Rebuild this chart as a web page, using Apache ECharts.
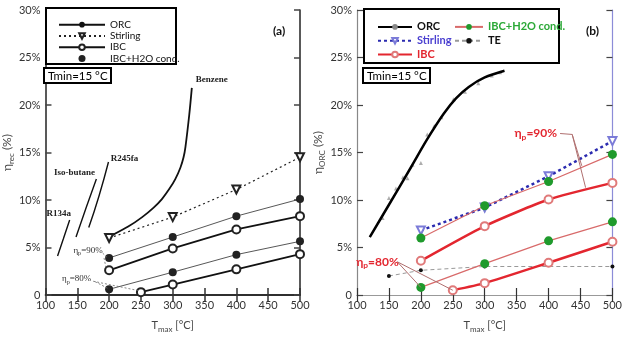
<!DOCTYPE html>
<html>
<head>
<meta charset="utf-8">
<script src="https://cdn.jsdelivr.net/npm/echarts@6/dist/echarts.min.js"></script>
<style>
html,body{margin:0;padding:0;background:#fff}
#chart{width:625px;height:338px}
</style>
</head>
<body>
<div id="chart"></div>
<script>
// temperatures (°C) of the computed points
var tmaxPts = [200, 300, 400, 500];
var tmaxPts80 = [250, 300, 400, 500];

// panel (a) : efficiencies in %
var aR134a = [[119, 4.1], [128, 5.9], [138, 7.9]];
var aIsobutane = [[148, 6.1], [164, 9.2], [180, 12.2]];
var aR245fa = [[168, 7.1], [184, 10.4], [199, 14.0]];
var aBenzene = [[205, 6.3], [230, 7.2], [252, 8.2], [270, 9.2], [283, 10.1], [295, 11.2], [304, 12.2], [312, 13.4], [317, 14.5], [320, 15.6], [326, 19.0], [330, 21.8]];
var aStirling = [6.0, 8.2, 11.1, 14.5];
var aIbcCond90 = [3.9, 6.1, 8.3, 10.1];
var aIbc90 = [2.6, 4.9, 6.9, 8.3];
var aIbcCond80 = [0.6, 2.4, 4.25, 5.65];
var aIbc80 = [0.3, 1.1, 2.7, 4.3];

// panel (b)
var bOrcFit = [[120, 6.1], [150, 9.5], [185, 13.5], [210, 16.4], [236, 19.1], [255, 20.7], [275, 21.9], [300, 22.9], [331, 23.6]];
var bOrcPts = [[140, 8.1], [150, 10.2], [161, 11.2], [172, 12.4], [179, 12.3], [187, 13.7], [200, 13.9], [210, 16.9], [221, 17.8], [232, 18.7], [251, 20.6], [269, 21.4], [290, 22.3], [311, 23.1], [324, 23.45]];
var bStirling = [6.8, 9.2, 12.5, 16.2];
var bIbcCond90 = [6.0, 9.4, 11.95, 14.8];
var bIbc90 = [3.6, 7.25, 10.05, 11.8];
var bIbcCond80 = [0.8, 3.3, 5.7, 7.7];
var bIbc80 = [0.5, 1.25, 3.4, 5.6];
var bTE = [[150, 2.0], [200, 2.6], [300, 3.0], [500, 3.0]];

function pair(xs, ys) {
    return xs.map(function (x, i) { return [x, ys[i]]; });
}
function last(arr) { return arr[arr.length - 1]; }

var FONT = 'Lato';
var SERIF = 'Liberation Serif';

function xAxes(grid, lineColor, topColor, width) {
    return [{
        gridIndex: grid, type: 'value', min: 100, max: 500, interval: 50, position: 'bottom',
        axisLine: { lineStyle: { color: lineColor, width: width } },
        axisTick: { inside: true, length: 7, lineStyle: { color: '#333', width: width } },
        axisLabel: { color: '#333', fontSize: 11, margin: 5, fontFamily: FONT },
        splitLine: { show: false },
        name: '{t|T}{s|max}{t| [°C]}', nameLocation: 'middle', nameGap: 22,
        nameTextStyle: { rich: {
            t: { fontSize: 11, fontFamily: FONT, color: '#444' },
            s: { fontSize: 8, fontFamily: FONT, color: '#444', padding: [8, 0, 0, 0] }
        } }
    }, {
        gridIndex: grid, type: 'value', min: 100, max: 500, interval: 50, position: 'top',
        axisLine: { lineStyle: { color: topColor, width: width } },
        axisTick: { inside: true, length: 7, lineStyle: { color: '#333', width: width } },
        axisLabel: { show: false }, splitLine: { show: false }
    }];
}
function yAxes(grid, leftColor, rightColor, width, sub) {
    return [{
        gridIndex: grid, type: 'value', min: 0, max: 30, interval: 5, position: 'left',
        axisLine: { show: true, lineStyle: { color: leftColor, width: width } },
        axisTick: { show: true, inside: true, length: 6, lineStyle: { color: '#444', width: width } },
        axisLabel: { color: '#333', fontSize: 11, margin: 5, fontFamily: FONT,
            formatter: function (v) { return v === 0 ? '0' : v + '%'; } },
        splitLine: { show: false },
        name: '{t|η}{s|' + sub + '}{t| (%)}', nameLocation: 'middle', nameGap: 24, nameRotate: 90,
        nameTextStyle: { rich: {
            t: { fontSize: 12, fontFamily: FONT, color: '#444' },
            s: { fontSize: 8, fontFamily: FONT, color: '#444', padding: [8, 0, 0, 0] }
        } }
    }, {
        gridIndex: grid, type: 'value', min: 0, max: 30, interval: 5, position: 'right',
        axisLine: { show: true, lineStyle: { color: rightColor, width: width } },
        axisTick: { show: true, inside: true, length: 6, lineStyle: { color: '#444', width: width } },
        axisLabel: { show: false }, splitLine: { show: false }
    }];
}

function curveLabel(pt, text, off) {
    return {
        symbol: 'circle', symbolSize: 1, itemStyle: { color: 'transparent' },
        label: { show: true, formatter: text, offset: off, color: '#222', fontFamily: SERIF, fontWeight: 'bold', fontSize: 9 },
        data: [{ coord: pt }]
    };
}
function etaLabel(pt, text, style) {
    return {
        coord: pt,
        label: {
            show: true,
            formatter: '{a|η}{s|p}{a|=' + text + '}',
            rich: {
                a: { fontSize: style.size, fontFamily: style.font, fontWeight: style.weight, color: style.color },
                s: { fontSize: style.size * 0.7, fontFamily: style.font, fontWeight: style.weight, color: style.color, padding: [7, 0, 0, 0] }
            }
        }
    };
}
function lead(a, b) { return [{ coord: a }, { coord: b }]; }

var aOrcStyle = { color: '#111', width: 1.4 };
function aOrc(data, label, off, smooth, w) {
    return { name: 'ORC', type: 'line', data: data, smooth: smooth, symbol: 'circle', symbolSize: 3, showSymbol: false,
        lineStyle: { color: '#111', width: w }, itemStyle: { color: '#111' },
        markPoint: curveLabel(last(data), label, off) };
}
var aSeries = [
    aOrc(aR134a, 'R134a', [-11, -6], true, 1.4),
    aOrc(aIsobutane, 'Iso-butane', [-22, -6], true, 1.4),
    aOrc(aR245fa, 'R245fa', [16, -3], true, 1.4),
    aOrc(aBenzene, 'Benzene', [20, -8], 0.3, 1.8),
    { name: 'Stirling', type: 'line', data: pair(tmaxPts, aStirling), symbol: 'emptyTriangle', symbolRotate: 180, symbolSize: 8,
      lineStyle: { color: '#222', width: 1.2, type: [2, 3] }, itemStyle: { color: '#222', borderWidth: 1 } },
    { name: 'IBC+H2O cond.', type: 'line', data: pair(tmaxPts, aIbcCond90), symbol: 'circle', symbolSize: 8,
      lineStyle: { color: '#444', width: 0.9 }, itemStyle: { color: '#222' } },
    { name: 'IBC', type: 'line', data: pair(tmaxPts, aIbc90), symbol: 'emptyCircle', symbolSize: 8,
      lineStyle: { color: '#111', width: 1.8 }, itemStyle: { color: '#222', borderWidth: 1 },
      markPoint: { symbol: 'circle', symbolSize: 1, itemStyle: { color: 'transparent' },
        data: [etaLabel([167, 4.7], '90%', { size: 9, font: SERIF, weight: 'normal', color: '#333' }),
               etaLabel([149, 1.7], '80%', { size: 9, font: SERIF, weight: 'normal', color: '#333' })] },
      markLine: { silent: true, symbol: ['none', 'none'], label: { show: false },
        lineStyle: { color: '#666', width: 0.8, type: [2, 2] },
        data: [lead([190, 4.4], [197, 3.95]), lead([192, 3.9], [195, 2.9]),
               lead([175, 1.45], [247, 0.45]), lead([178, 1.4], [198, 0.7])] } },
    { name: 'IBC+H2O cond.', type: 'line', data: pair(tmaxPts, aIbcCond80), symbol: 'circle', symbolSize: 8,
      lineStyle: { color: '#444', width: 0.9 }, itemStyle: { color: '#222' } },
    { name: 'IBC', type: 'line', data: pair(tmaxPts80, aIbc80), symbol: 'emptyCircle', symbolSize: 8,
      lineStyle: { color: '#111', width: 1.8 }, itemStyle: { color: '#222', borderWidth: 1 } }
];
aSeries.forEach(function (s) { s.xAxisIndex = 0; s.yAxisIndex = 0; });

var RED = '#e3262f', GREEN = '#1f9a2c', BLUE = '#2b2bb0';
var bSeries = [
    { name: 'b:ORC', type: 'line', data: bOrcFit, smooth: 0.3, symbol: 'circle', symbolSize: 3, showSymbol: false,
      lineStyle: { color: '#000', width: 2.5 }, itemStyle: { color: '#888' } },
    { name: 'b:ORCpts', type: 'scatter', data: bOrcPts, symbol: 'triangle', symbolSize: 4, itemStyle: { color: '#999' } },
    { name: 'b:TE', type: 'line', data: bTE, symbol: 'circle', symbolSize: 4,
      lineStyle: { color: '#999', width: 1, type: [4, 3] }, itemStyle: { color: '#111' } },
    { name: 'b:Stirling', type: 'line', data: pair(tmaxPts, bStirling), symbol: 'emptyTriangle', symbolRotate: 180, symbolSize: 8,
      lineStyle: { color: BLUE, width: 2.5, type: [3, 3] }, itemStyle: { color: '#7b7bd8', borderWidth: 1 } },
    { name: 'b:IBC+H2O cond.', type: 'line', data: pair(tmaxPts, bIbcCond90), symbol: 'circle', symbolSize: 9,
      lineStyle: { color: '#d86a6a', width: 1.2 }, itemStyle: { color: GREEN } },
    { name: 'b:IBC', type: 'line', data: pair(tmaxPts, bIbc90), symbol: 'emptyCircle', symbolSize: 8, smooth: 0.2,
      lineStyle: { color: RED, width: 2.5 }, itemStyle: { color: '#e07a7a', borderWidth: 1 },
      markPoint: { symbol: 'circle', symbolSize: 1, itemStyle: { color: 'transparent' },
        data: [etaLabel([380, 17.0], '90%', { size: 12, font: FONT, weight: 'bold', color: RED }),
               etaLabel([132, 3.45], '80%', { size: 12, font: FONT, weight: 'bold', color: RED })] },
      markLine: { silent: true, symbol: ['none', 'none'], label: { show: false },
        lineStyle: { color: '#b07070', width: 1, type: 'solid' },
        data: [lead([418, 17.0], [437, 16.9]), lead([437, 16.9], [452, 13.6]), lead([437, 16.9], [458, 11.3]),
               lead([163, 3.5], [200, 0.8]), lead([163, 3.5], [250, 0.5])] } },
    { name: 'b:IBC+H2O cond.', type: 'line', data: pair(tmaxPts, bIbcCond80), symbol: 'circle', symbolSize: 9,
      lineStyle: { color: '#d86a6a', width: 1.2 }, itemStyle: { color: GREEN } },
    { name: 'b:IBC', type: 'line', data: pair(tmaxPts80, bIbc80), symbol: 'emptyCircle', symbolSize: 8, smooth: 0.2,
      lineStyle: { color: RED, width: 2.5 }, itemStyle: { color: '#e07a7a', borderWidth: 1 } }
];
bSeries.forEach(function (s) { s.xAxisIndex = 2; s.yAxisIndex = 2; });

var stripName = function (n) { return n.replace('b:', ''); };
var boxTitle = function (text, left, top) {
    return { text: text, left: left, top: top, padding: [2, 4, 1, 4], borderWidth: 2, borderColor: '#000', backgroundColor: '#fff',
        textStyle: { fontSize: 11.5, fontWeight: 'normal', fontFamily: FONT, color: '#000' } };
};

var chart = echarts.init(document.getElementById('chart'));
chart.setOption({
    animation: false,
    backgroundColor: '#fff',
    grid: [
        { left: 42, right: 325, top: 10, bottom: 41 },
        { left: 357, right: 9, top: 10, bottom: 41 }
    ],
    xAxis: xAxes(0, '#222', '#222', 1.5).concat(xAxes(1, '#9c9cd8', '#999', 1.2)),
    yAxis: yAxes(0, '#222', '#222', 1.5, 'rec').concat(yAxes(1, '#888', '#8c8cd8', 1.2, 'ORC')),
    title: [
        boxTitle('Tmin=15 °C', 44, 68),
        boxTitle('Tmin=15 °C', 363, 68),
        { text: '(a)', left: 268, top: 20, textStyle: { fontSize: 12, fontWeight: 'bold', fontFamily: FONT, color: '#111' } },
        { text: '(b)', left: 581, top: 20, textStyle: { fontSize: 12, fontWeight: 'bold', fontFamily: FONT, color: '#111' } }
    ],
    graphic: [
        { type: 'rect', left: 45, top: 7, z: 3, shape: { width: 130, height: 56 }, style: { fill: '#fff', stroke: '#000', lineWidth: 2 } },
        { type: 'rect', left: 363, top: 8, z: 3, shape: { width: 195, height: 54 }, style: { fill: '#fff', stroke: '#000', lineWidth: 2 } }
    ],
    legend: [
        { left: 53, top: 14, orient: 'vertical', itemGap: 0, itemWidth: 46, itemHeight: 7, z: 5,
          textStyle: { fontSize: 10, lineHeight: 11.3, fontFamily: FONT, color: '#111' },
          data: ['ORC', 'Stirling', 'IBC', { name: 'IBC+H2O cond.', icon: 'circle' }] },
        { left: 372, top: 15, orient: 'vertical', itemGap: 0, itemWidth: 34, itemHeight: 7, z: 5, formatter: stripName,
          textStyle: { fontSize: 11, lineHeight: 13.8, fontFamily: FONT, fontWeight: 'bold' },
          data: [{ name: 'b:ORC', textStyle: { color: '#111' } },
                 { name: 'b:Stirling', textStyle: { color: '#4a3fd0' } },
                 { name: 'b:IBC', textStyle: { color: RED } }] },
        { left: 449, top: 15, orient: 'vertical', itemGap: 0, itemWidth: 28, itemHeight: 7, z: 5, formatter: stripName,
          textStyle: { fontSize: 11, lineHeight: 13.8, fontFamily: FONT, fontWeight: 'bold' },
          data: [{ name: 'b:IBC+H2O cond.', textStyle: { color: '#2aa836' } },
                 { name: 'b:TE', textStyle: { color: '#111' } }] }
    ],
    series: aSeries.concat(bSeries)
});
window.addEventListener('resize', function () { chart.resize(); });
</script>
</body>
</html>
